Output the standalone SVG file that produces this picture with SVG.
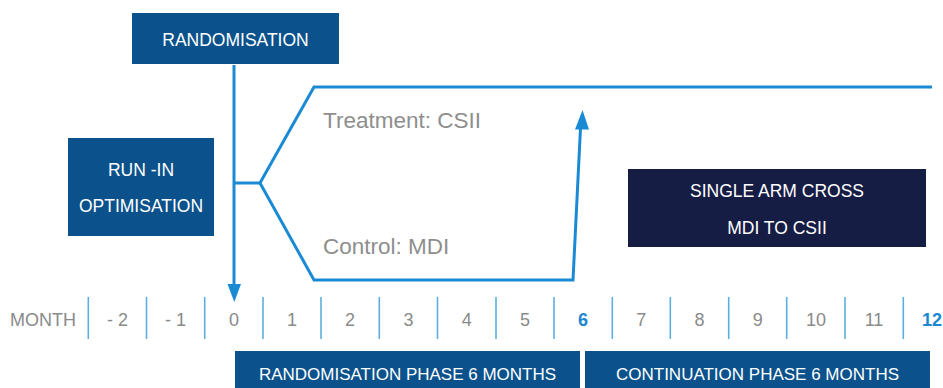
<svg xmlns="http://www.w3.org/2000/svg" width="943" height="388" viewBox="0 0 943 388">
  <defs>
    <style>
      .box { fill: #0b528c; }
      .dark { fill: #161d45; }
      .btxt { font-family: "Liberation Sans", Arial, sans-serif; font-size: 17.5px; fill: #ffffff; text-anchor: middle; }
      .ptxt { font-family: "Liberation Sans", Arial, sans-serif; font-size: 17px; fill: #ffffff; text-anchor: middle; }
      .arm { font-family: "Liberation Sans", Arial, sans-serif; font-size: 22.5px; fill: #8e8e8e; }
      .ax { font-family: "Liberation Sans", Arial, sans-serif; font-size: 18px; fill: #8a8a8a; text-anchor: middle; }
      .axb { font-family: "Liberation Sans", Arial, sans-serif; font-size: 18px; font-weight: bold; fill: #1b87cf; text-anchor: middle; }
      .flow { fill: none; stroke: #1a8ad4; stroke-width: 3; stroke-linejoin: miter; }
      .tick { stroke: #5aaee0; stroke-width: 1.6; }
      .head { fill: #1a8ad4; }
    </style>
  </defs>

  <rect width="943" height="388" fill="#ffffff"/>

  <!-- flow lines and arrowheads -->
  <g id="connectors">
    <path class="flow" d="M234,65 V284"/>
    <path class="head" d="M227.5,284 L241,284 L234.3,302 Z"/>
    <path class="flow" d="M234,183 H260 L314,87 H932"/>
    <path class="flow" d="M260,183 L314,280 H573 L580.5,128"/>
    <path class="head" d="M575,129.5 L589,129.5 L582.5,110 Z"/>
  </g>

  <g id="randomisation">
    <rect class="box" x="132" y="13" width="207" height="51"/>
    <text class="btxt" x="235.5" y="46">RANDOMISATION</text>
  </g>

  <g id="run-in">
    <rect class="box" x="68" y="138" width="146" height="98"/>
    <text class="btxt" x="141" y="176">RUN -IN</text>
    <text class="btxt" x="141" y="212">OPTIMISATION</text>
  </g>

  <g id="treatment">
    <text class="arm" x="323" y="128">Treatment: CSII</text>
  </g>

  <g id="control">
    <text class="arm" x="323" y="254">Control: MDI</text>
  </g>

  <g id="single-arm">
    <rect class="dark" x="628" y="169" width="298" height="78"/>
    <text class="btxt" x="777" y="197">SINGLE ARM CROSS</text>
    <text class="btxt" x="777" y="234">MDI TO CSII</text>
  </g>

  <!-- month axis -->
  <g id="axis">
    <text class="ax" x="43" y="326">MONTH</text>
    <line class="tick" x1="88.3" y1="297" x2="88.3" y2="339"/>
    <line class="tick" x1="146.5" y1="297" x2="146.5" y2="339"/>
    <line class="tick" x1="204.7" y1="297" x2="204.7" y2="339"/>
    <line class="tick" x1="263" y1="297" x2="263" y2="339"/>
    <line class="tick" x1="321" y1="297" x2="321" y2="339"/>
    <line class="tick" x1="379.3" y1="297" x2="379.3" y2="339"/>
    <line class="tick" x1="437.5" y1="297" x2="437.5" y2="339"/>
    <line class="tick" x1="496" y1="297" x2="496" y2="339"/>
    <line class="tick" x1="554" y1="297" x2="554" y2="339"/>
    <line class="tick" x1="612.3" y1="297" x2="612.3" y2="339"/>
    <line class="tick" x1="670.3" y1="297" x2="670.3" y2="339"/>
    <line class="tick" x1="728.7" y1="297" x2="728.7" y2="339"/>
    <line class="tick" x1="786.7" y1="297" x2="786.7" y2="339"/>
    <line class="tick" x1="845" y1="297" x2="845" y2="339"/>
    <line class="tick" x1="903.3" y1="297" x2="903.3" y2="339"/>
    <text class="ax" x="117.5" y="326">- 2</text>
    <text class="ax" x="175.5" y="326">- 1</text>
    <text class="ax" x="234" y="326">0</text>
    <text class="ax" x="292" y="326">1</text>
    <text class="ax" x="350" y="326">2</text>
    <text class="ax" x="408.5" y="326">3</text>
    <text class="ax" x="466.7" y="326">4</text>
    <text class="ax" x="525" y="326">5</text>
    <text class="axb" x="583" y="326">6</text>
    <text class="ax" x="641.3" y="326">7</text>
    <text class="ax" x="699.5" y="326">8</text>
    <text class="ax" x="757.7" y="326">9</text>
    <text class="ax" x="816" y="326">10</text>
    <text class="ax" x="874" y="326">11</text>
    <text class="axb" x="932" y="326">12</text>
  </g>

  <g id="phase-randomisation">
    <rect class="box" x="235" y="351" width="345" height="37"/>
    <text class="ptxt" x="407.5" y="380">RANDOMISATION PHASE 6 MONTHS</text>
  </g>

  <g id="phase-continuation">
    <rect class="box" x="585" y="351" width="345" height="37"/>
    <text class="ptxt" x="757.5" y="380">CONTINUATION PHASE 6 MONTHS</text>
  </g>
</svg>
